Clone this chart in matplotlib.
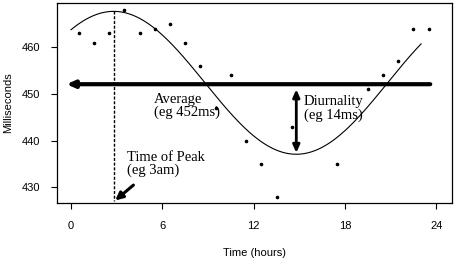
import numpy as np
import matplotlib.pyplot as plt

# hourly means (taken at the half hour)
hours = [0.5, 1.5, 2.5, 3.5, 4.5, 5.5, 6.5, 7.5, 8.5, 9.5, 10.5, 11.5,
         12.5, 13.5, 14.5, 17.5, 19.5, 20.5, 21.5, 22.5, 23.5]
ms = [463, 461, 463, 468, 463, 464, 465, 461, 456, 447, 454, 440,
      435, 428, 443, 435, 451, 454, 457, 464, 464]

# cosinor fit
mesor = 452.4
amplitude = 15.3
peak_hour = 2.8
fit_start, fit_end = 0, 23

serif = 'Liberation Serif'
sans = 'Liberation Sans'

fig = plt.figure(figsize=(4.54, 2.61), dpi=100)
ax = fig.add_axes([0.1256, 0.2222, 0.87, 0.7663])

t = np.linspace(fit_start, fit_end, 300)
ax.plot(t, mesor + amplitude * np.cos(2 * np.pi * (t - peak_hour) / 24),
        color='black', lw=0.8)
ax.plot(hours, ms, 'o', color='black', ms=1.6)

# time of peak line
ax.plot([peak_hour, peak_hour], [mesor + amplitude, 427.0], color='black',
        lw=1.0, ls=(0, (2.2, 1.2)))

# average arrow
ax.annotate('', xy=(-0.3, 452.1), xytext=(23.6, 452.1),
            arrowprops=dict(arrowstyle='-|>,head_length=0.45,head_width=0.2',
                            lw=3, color='black', shrinkA=0, shrinkB=0))
# diurnality arrow
ax.annotate('', xy=(14.8, 451.0), xytext=(14.8, 437.4),
            arrowprops=dict(arrowstyle='<|-|>,head_length=0.45,head_width=0.2',
                            lw=2.0, color='black', shrinkA=0, shrinkB=0))
# peak arrow
ax.annotate('', xy=(2.9, 427.2), xytext=(4.1, 430.5),
            arrowprops=dict(arrowstyle='-|>,head_length=0.45,head_width=0.22',
                            lw=2.2, color='black', shrinkA=0, shrinkB=0))

ax.text(5.45, 450.3, 'Average\n(eg 452ms)', family=serif, fontsize=10.5,
        va='top', ha='left', linespacing=1.0)
ax.text(15.3, 449.7, 'Diurnality\n(eg 14ms)', family=serif, fontsize=10.5,
        va='top', ha='left', linespacing=1.0)
ax.text(3.65, 437.8, 'Time of Peak\n(eg 3am)', family=serif, fontsize=10.5,
        va='top', ha='left', linespacing=1.0)

ax.set_xlim(-0.92, 25.03)
ax.set_ylim(426.66, 469.49)
ax.set_xticks([0, 6, 12, 18, 24])
ax.set_yticks([430, 440, 450, 460])
ax.tick_params(length=4, width=0.8, labelsize=8)
ax.tick_params(axis='x', pad=9)
ax.tick_params(axis='y', pad=8)
for lab in ax.get_xticklabels() + ax.get_yticklabels():
    lab.set_family(sans)
for s in ax.spines.values():
    s.set_linewidth(0.9)

ax.set_xlabel('Time (hours)', family=sans, fontsize=8, labelpad=12)
ax.set_ylabel('Milliseconds', family=sans, fontsize=8, labelpad=6)

fig.savefig('out.png', dpi=100)
